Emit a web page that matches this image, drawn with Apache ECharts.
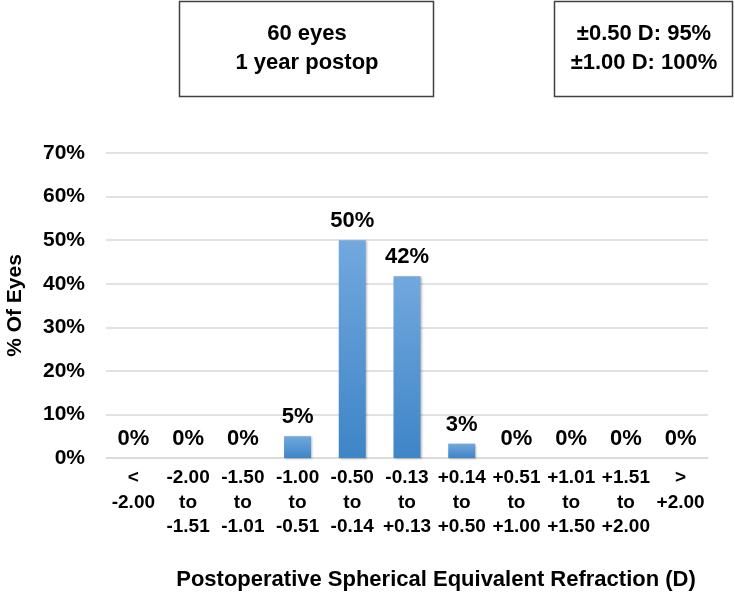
<!DOCTYPE html>
<html>
<head>
<meta charset="utf-8">
<script src="https://cdn.jsdelivr.net/npm/echarts@6/dist/echarts.min.js"></script>
<style>html,body{margin:0;padding:0;background:#fff;}#c{width:735px;height:610px;}</style>
</head>
<body>
<div id="c"></div>
<script>
const categories = ["<\n-2.00", "-2.00\nto\n-1.51", "-1.50\nto\n-1.01", "-1.00\nto\n-0.51", "-0.50\nto\n-0.14", "-0.13\nto\n+0.13", "+0.14\nto\n+0.50", "+0.51\nto\n+1.00", "+1.01\nto\n+1.50", "+1.51\nto\n+2.00", ">\n+2.00"];
const percentEyes = [0, 0, 0, 5, 50, 41.7, 3.3, 0, 0, 0, 0];
const yTicks = [0, 10, 20, 30, 40, 50, 60, 70];
const boxLeft = ["60 eyes", "1 year postop"];
const boxRight = ["±0.50 D: 95%", "±1.00 D: 100%"];

const FONT = "Liberation Sans, Arial, sans-serif";
const chart = echarts.init(document.getElementById('c'));
chart.setOption({
  animation: false,
  backgroundColor: '#fff',
  grid: { left: 106, right: 27, top: 153, bottom: 152, containLabel: false, outerBoundsMode: 'none' },
  graphic: [
    { type: 'rect', shape: { x: 179.5, y: 1.5, width: 254, height: 95 },
      style: { fill: '#fff', stroke: '#404040', lineWidth: 1.5 } },
    { type: 'text', x: 307, y: 48, style: { text: boxLeft.join('\n'), fill: '#000', font: 'bold 22px ' + FONT, align: 'center', verticalAlign: 'middle', lineHeight: 29 } },
    { type: 'rect', shape: { x: 554.5, y: 1.5, width: 178, height: 95 },
      style: { fill: '#fff', stroke: '#404040', lineWidth: 1.5 } },
    { type: 'text', x: 644, y: 48, style: { text: boxRight.join('\n'), fill: '#000', font: 'bold 22px ' + FONT, align: 'center', verticalAlign: 'middle', lineHeight: 29 } },
    { type: 'text', x: 436, y: 580, style: { text: 'Postoperative Spherical Equivalent Refraction (D)', fill: '#000', font: 'bold 22px ' + FONT, align: 'center', verticalAlign: 'middle' } }
  ],
  xAxis: {
    type: 'category',
    data: categories,
    axisLine: { show: true, lineStyle: { color: '#d9d9d9', width: 1.5 } },
    axisTick: { show: false },
    axisLabel: { interval: 0, fontFamily: FONT, fontWeight: 'bold', fontSize: 19, color: '#000', lineHeight: 24.5, margin: 8, verticalAlign: 'top' }
  },
  yAxis: {
    type: 'value',
    min: 0, max: 70, interval: 10,
    name: '% Of Eyes',
    nameLocation: 'middle',
    nameGap: 80,
    nameRotate: 90,
    nameTextStyle: { fontFamily: FONT, fontWeight: 'bold', fontSize: 21, color: '#000' },
    axisLine: { show: false },
    axisTick: { show: false },
    splitLine: { lineStyle: { color: '#d9d9d9', width: 1.5 } },
    axisLabel: { fontFamily: FONT, fontWeight: 'bold', fontSize: 21, color: '#000', margin: 21,
      formatter: v => yTicks.includes(v) ? v + '%' : '' }
  },
  series: [{
    type: 'bar',
    data: percentEyes,
    barWidth: 27,
    itemStyle: {
      color: new echarts.graphic.LinearGradient(0, 0, 0, 1, [
        { offset: 0, color: '#72a8de' },
        { offset: 1, color: '#3e85c7' }
      ]),
      shadowColor: 'rgba(0,0,0,0.25)', shadowBlur: 2, shadowOffsetX: 1, shadowOffsetY: 1
    },
    label: { show: true, position: 'top', distance: 8, fontFamily: FONT, fontWeight: 'bold', fontSize: 22, color: '#000',
      formatter: p => Math.round(p.value) + '%' }
  }]
});
</script>
</body>
</html>
